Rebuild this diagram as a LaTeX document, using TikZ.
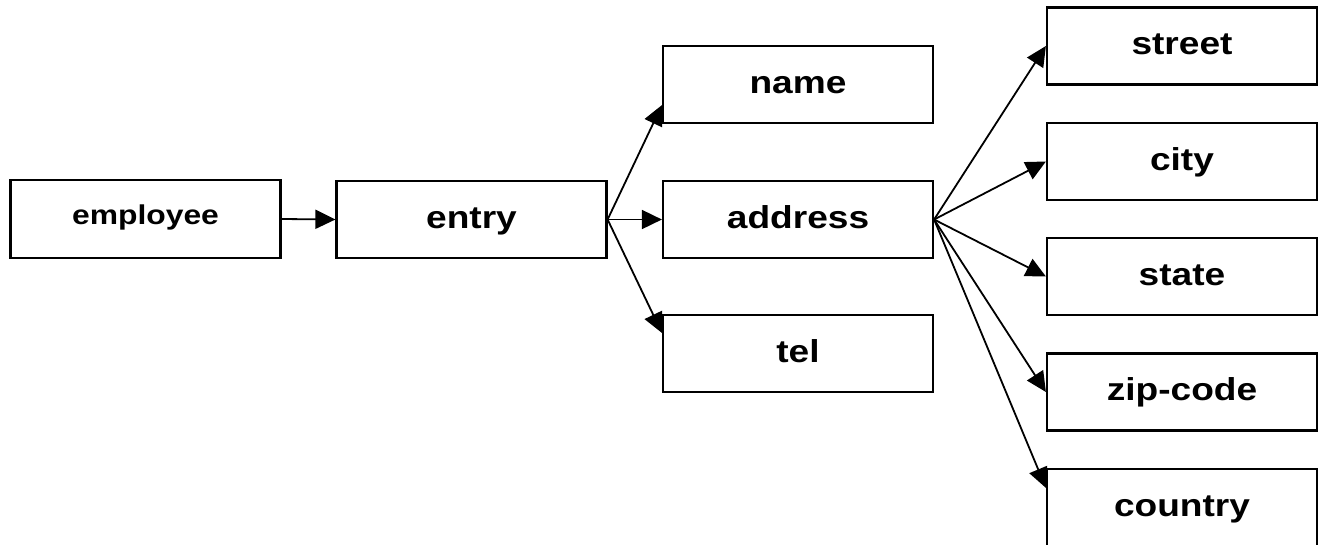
\documentclass[tikz,border=0pt]{standalone}
\usepackage{fontspec}
\newfontfamily\boxfont{Liberation Sans}[FakeStretch=1.17]
\usetikzlibrary{arrows.meta}
\begin{document}
\begin{tikzpicture}[x=1pt,y=-1pt,
  field/.style={draw, line width=2.2pt, fill=white,
    minimum width=270pt, minimum height=77pt, inner sep=0pt,
    font=\boxfont\bfseries\fontsize{31.7}{38}\selectfont,
    text height=22.7pt, text depth=5.5pt},
  smallfield/.style={field, minimum height=78pt,
    font=\boxfont\bfseries\fontsize{27.2}{33}\selectfont,
    text height=19.5pt, text depth=9pt},
  conn/.style={line width=1.8pt, -{Triangle[length=20pt,width=19pt]}}]
  \useasboundingbox (0,0) rectangle (1321,544);

  % root and record
  \node[smallfield] (employee) at (145.5,219) {employee};
  \node[field] (entry)    at (471.5,219.5) {entry};

  % children of entry
  \node[field] (name)     at (798,84.5)  {name};
  \node[field] (address)  at (798,219.5) {address};
  \node[field] (tel)      at (798,353.5) {tel};

  % children of address
  \node[field] (street)   at (1182,46)    {street};
  \node[field] (city)     at (1182,161.5) {city};
  \node[field] (state)    at (1182,276.5) {state};
  \node[field] (zip)      at (1182,392)   {zip-code};
  \node[field] (country)  at (1182,507.5) {country};

  % connectors
  \draw[conn] (employee.east) -- (entry.west);
  \draw[conn] (entry.east) -- ([yshift=19pt]name.south west);
  \draw[conn] (entry.east) -- (address.west);
  \draw[conn] (entry.east) -- ([yshift=-19pt]tel.north west);
  \draw[conn] (address.east) -- (street.west);
  \draw[conn] (address.east) -- (city.west);
  \draw[conn] (address.east) -- (state.west);
  \draw[conn] (address.east) -- (zip.west);
  \draw[conn] (address.east) -- ([yshift=-20pt]country.north west);
\end{tikzpicture}
\end{document}
